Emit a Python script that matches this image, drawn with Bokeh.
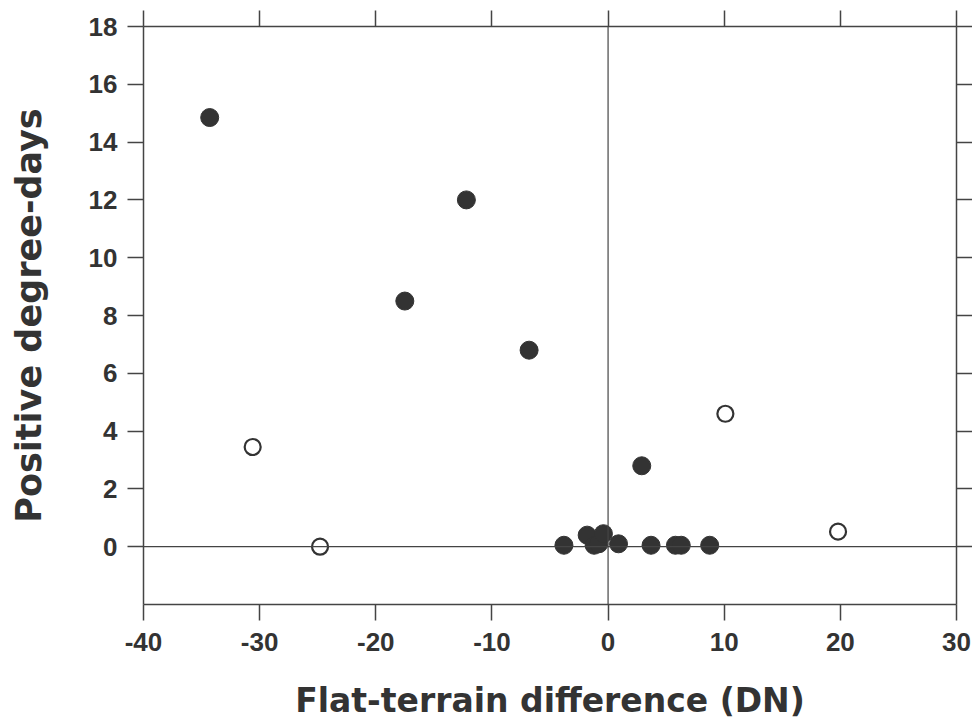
from bokeh.plotting import figure
from bokeh.models import LinearAxis, Span, FixedTicker, CustomJSTickFormatter, Range1d
from bokeh.embed import file_html
from bokeh.resources import INLINE

# Filled circles
filled_x = [-34.3, -12.2, -17.5, -6.8, 2.9, -3.8, -1.8, -1.2, -0.8, -0.4, 0.9, 3.7, 5.8, 6.3, 8.75]
filled_y = [14.85, 12.0, 8.5, 6.8, 2.8, 0.05, 0.4, 0.05, 0.1, 0.45, 0.1, 0.05, 0.05, 0.05, 0.05]
# Open circles
open_x = [-30.6, -24.8, 10.1, 19.8]
open_y = [3.45, 0.0, 4.6, 0.52]

x_ticks = [-40, -30, -20, -10, 0, 10, 20, 30]
y_ticks = [0, 2, 4, 6, 8, 10, 12, 14, 16, 18]

INK = "#333333"
LINE = "#444444"
TICK_FONT = "Liberation Sans"
LABEL_FONT = "DejaVu Sans"

p = figure(frame_width=813, frame_height=578, width=972, height=716,
           x_range=Range1d(-40, 30), y_range=Range1d(-2, 18),
           output_backend="svg", toolbar_location=None,
           min_border_left=143, min_border_top=26, min_border_right=16,
           min_border_bottom=112)
p.outline_line_color = None
p.background_fill_color = "white"
p.xgrid.visible = False
p.ygrid.visible = False

plain = CustomJSTickFormatter(code="return tick.toString()")
for ax in (p.xaxis[0], p.yaxis[0]):
    ax.formatter = plain
    ax.axis_line_color = LINE
    ax.axis_line_width = 1.5
    ax.major_tick_line_color = LINE
    ax.major_tick_line_width = 1.5
    ax.major_tick_out = 16
    ax.major_tick_in = 0
    ax.minor_tick_line_color = None
    ax.major_label_text_font = TICK_FONT
    ax.major_label_text_font_style = "bold"
    ax.major_label_text_font_size = "26px"
    ax.major_label_text_color = INK
    ax.axis_label_text_font = LABEL_FONT
    ax.axis_label_text_font_style = "bold"
    ax.axis_label_text_color = INK

p.xaxis[0].ticker = FixedTicker(ticks=x_ticks)
p.yaxis[0].ticker = FixedTicker(ticks=y_ticks)
p.xaxis[0].axis_label = "Flat-terrain difference (DN)"
p.yaxis[0].axis_label = "Positive degree-days"
p.xaxis[0].axis_label_text_font_size = "33px"
p.yaxis[0].axis_label_text_font_size = "35px"
p.xaxis[0].major_label_standoff = 12
p.yaxis[0].major_label_standoff = 10
p.xaxis[0].axis_label_standoff = 27
p.yaxis[0].axis_label_standoff = 37

blank = CustomJSTickFormatter(code="return ''")
top = LinearAxis(ticker=FixedTicker(ticks=x_ticks), formatter=blank,
                 major_label_text_font_size="0px")
right = LinearAxis(ticker=FixedTicker(ticks=y_ticks), formatter=blank,
                   major_label_text_font_size="0px")
for ax in (top, right):
    ax.axis_line_color = LINE
    ax.axis_line_width = 1.5
    ax.major_tick_line_color = LINE
    ax.major_tick_line_width = 1.5
    ax.major_tick_out = 16
    ax.major_tick_in = 0
    ax.minor_tick_line_color = None
    ax.major_label_standoff = 0
p.add_layout(top, "above")
p.add_layout(right, "right")

p.add_layout(Span(location=0, dimension="width", line_color=LINE, line_width=1.2))
p.add_layout(Span(location=0, dimension="height", line_color=LINE, line_width=1.2))

p.scatter(filled_x, filled_y, size=18, marker="circle", fill_color=INK, line_color=INK)
p.scatter(open_x, open_y, size=16, marker="circle", fill_color="white",
          line_color=INK, line_width=2.2)

open("out.html", "w").write(file_html(p, INLINE))
